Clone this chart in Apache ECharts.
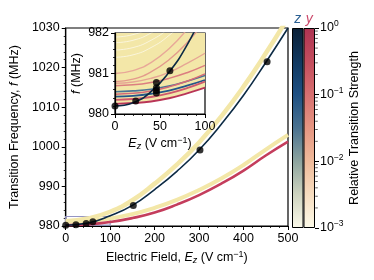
<!DOCTYPE html>
<html><head><meta charset="utf-8">
<script src="https://cdn.jsdelivr.net/npm/echarts@6/dist/echarts.min.js"></script>
<style>html,body{margin:0;padding:0;background:#fff}#c{width:374px;height:280px}</style>
</head><body><div id="c"></div><script>
// ---- data ----
const fieldMain = [0,50,100,150,200,250,300,350,400,450,500];
const zMain     = [980.2,980.75,982.6,985.2,989.2,993.8,999.2,1005.7,1013.0,1021.3,1030.0];
const zBandMain = [981.2,981.9,983.6,986.5,990.7,995.5,1001.1,1007.7,1015.2,1023.6,1032.6];
const yBandMain = [981.0,981.3,981.9,983.0,984.6,986.6,989.1,992.0,995.4,999.3,1003.0];
const yMain     = [980.2,980.4,981.0,982.0,983.4,985.4,987.8,990.7,994.0,997.8,1001.3];
const measuredField = [0,23,46,61,152,302,453];
const measuredFreq  = [980.2,980.3,980.6,981.1,985.2,999.2,1021.5];

const fieldInset = [0,20,40,60,80,100];
const insetYellowFloor = [980.28,980.3,980.34,980.42,980.54,980.68];
const insetRed   = [980.25,980.27,980.31,980.39,980.51,980.65];
const insetPink1 = [980.35,980.37,980.42,980.51,980.64,980.8];
const insetBlue1 = [980.43,980.45,980.5,980.58,980.7,980.84];
const insetPink2 = [980.49,980.51,980.57,980.67,980.81,980.99];
const insetBlue2 = [980.55,980.57,980.61,980.69,980.81,980.95];
const insetPink3 = [980.7,980.72,980.78,980.88,981.02,981.2];
const insetPink4 = [980.8,980.86,981.04,981.34,981.76,982.3];
const insetPink5 = [981.0,981.07,981.27,981.61,982.09,982.7];
const insetPink6 = [980.76,980.79,980.88,981.03,981.25,981.5];
const insetNavy  = [980.2,980.28,980.55,981.03,981.7,982.6];
const insetWhite1 = [981.4,981.46,981.64,981.94,982.36,982.9];
const insetWhite2 = [981.58,981.64,981.82,982.12,982.54,983.1];
const insetWhite3 = [981.76,981.82,982.0,982.3,982.72,983.3];
const insetWhite4 = [981.9,981.96,982.14,982.44,982.86,983.4];
const insetField = [0,23,46,46,46,46,61];
const insetFreq  = [980.2,980.32,980.52,980.58,980.65,980.78,981.07];

const colorbarCats = ['z','y'];
const colorbarSpan = [3,3];
const colorbarMinor = [0.002,0.003,0.004,0.005,0.006,0.007,0.008,0.009,
                       0.02,0.03,0.04,0.05,0.06,0.07,0.08,0.09,
                       0.2,0.3,0.4,0.5,0.6,0.7,0.8,0.9];
const mainBox = [[0,980.2],[100,982.4]];

// ---- helpers ----
const FONT = 'Liberation Sans, Arial, sans-serif';
const pair = (xs, ys) => xs.map((x,i)=>[x, ys[i]]);
function line(gi, xs, ys, color, width, z, extra) {
  return Object.assign({
    type:'line', xAxisIndex:gi, yAxisIndex:gi, data:pair(xs,ys), smooth:true,
    showSymbol:false, symbol:'none', lineStyle:{color:color, width:width}, z:z,
    silent:true, animation:false, clip:true
  }, extra||{});
}
const supFmt = v => {
  const e = Math.round(Math.log10(v));
  return '{b|10}{s|' + (e < 0 ? '\u2212' + (-e) : e) + '}';
};
const axisCommon = {
  axisLine:{show:true, lineStyle:{color:'#000', width:1.2}},
  axisTick:{show:true, inside:false, length:4, lineStyle:{color:'#000', width:1}},
  minorTick:{show:true, splitNumber:5, length:2, lineStyle:{color:'#000', width:0.8}},
  splitLine:{show:false},
  axisLabel:{color:'#000', fontSize:12.5, fontFamily:FONT, margin:6, formatter:v=>String(v)}
};
const gradZ = {type:'linear', x:0,y:0,x2:0,y2:1, colorStops:[
  {offset:0, color:'#0b2036'},{offset:0.18, color:'#123a62'},{offset:0.33, color:'#1d4f82'},
  {offset:0.5, color:'#4a7290'},{offset:0.67, color:'#8ea59f'},{offset:0.83, color:'#cdd3bf'},
  {offset:1, color:'#fcfaea'}]};
const gradY = {type:'linear', x:0,y:0,x2:0,y2:1, colorStops:[
  {offset:0, color:'#ad3352'},{offset:0.18, color:'#c5505f'},{offset:0.33, color:'#d66f70'},
  {offset:0.5, color:'#e59682'},{offset:0.67, color:'#efbb9b'},{offset:0.83, color:'#f6dcbf'},
  {offset:1, color:'#fdfbe9'}]};

const YEL = '#f3e7a8';
const richName = {i:{fontStyle:'italic', fontSize:12.5, fontFamily:FONT},
  sub:{fontSize:9, fontStyle:'italic', fontFamily:FONT, verticalAlign:'bottom', padding:[6,0,0,0]},
  sup:{fontSize:9, fontFamily:FONT, verticalAlign:'top', padding:[0,0,6,0]}};
const option = {
  animation:false,
  backgroundColor:'#fff',
  textStyle:{fontFamily:FONT},
  grid:[
    {left:65, top:28, width:223, height:198, show:true, borderColor:'#000', borderWidth:1.2, z:0},
    {left:115, top:33, width:90, height:81, show:true, backgroundColor:'#fff', borderColor:'#000', borderWidth:1.2, z:5},
    {left:292, top:28, width:23, height:200, show:false}
  ],
  xAxis:[
    Object.assign({}, axisCommon, {gridIndex:0, type:'value', min:0, max:500, interval:100,
      name:'Electric Field, {i|E}{sub|z} (V cm{sup|\u22121})', nameLocation:'middle', nameGap:24,
      nameTextStyle:{color:'#000', fontSize:12.5, fontFamily:FONT, rich:richName}}),
    Object.assign({}, axisCommon, {gridIndex:1, type:'value', min:0, max:100, interval:50, z:9,
      name:'{i|E}{sub|z} (V cm{sup|\u22121})', nameLocation:'middle', nameGap:22,
      nameTextStyle:{color:'#000', fontSize:12.5, fontFamily:FONT, rich:richName}}),
    {gridIndex:2, type:'category', data:colorbarCats, position:'top',
      axisLine:{show:false}, axisTick:{show:false},
      axisLabel:{margin:2, interval:0, formatter:v=>'{'+v+'|'+v+'}',
        rich:{z:{color:'#2b5f92', fontStyle:'italic', fontSize:14, fontFamily:FONT},
              y:{color:'#cc4a6c', fontStyle:'italic', fontSize:14, fontFamily:FONT}}}},
    {gridIndex:2, type:'value', min:0, max:1, show:false}
  ],
  yAxis:[
    Object.assign({}, axisCommon, {gridIndex:0, type:'value', min:980, max:1030, interval:10,
      name:'Transition Frequency, {i|f} (MHz)', nameLocation:'middle', nameGap:35,
      nameTextStyle:{color:'#000', fontSize:12.5, fontFamily:FONT, rich:richName}}),
    Object.assign({}, axisCommon, {gridIndex:1, type:'value', min:980, max:982, interval:1, z:9,
      name:'{i|f} (MHz)', nameLocation:'middle', nameGap:32,
      nameTextStyle:{color:'#000', fontSize:12.5, fontFamily:FONT, rich:richName}}),
    {gridIndex:2, type:'value', min:0, max:3, show:false},
    {gridIndex:2, type:'log', min:0.001, max:1, logBase:10, position:'right',
      axisLine:{show:false}, splitLine:{show:false},
      axisTick:{show:true, inside:false, length:4, lineStyle:{color:'#000', width:1}},
      axisLabel:{color:'#000', margin:5, formatter:supFmt,
        rich:{b:{fontSize:12.5, fontFamily:FONT, color:'#000'}, s:{fontSize:8.5, fontFamily:FONT, color:'#000', verticalAlign:'top', padding:[0,0,8,0]}}},
      name:'Relative Transition Strength', nameLocation:'middle', nameGap:33, nameRotate:90,
      nameTextStyle:{color:'#000', fontSize:12.5, fontFamily:FONT}}
  ],
  series:[
    // main plot
    line(0, fieldMain, zBandMain, YEL, 4.5, 2),
    line(0, fieldMain, yBandMain, YEL, 4, 2),
    line(0, fieldMain, yMain, '#c43d5c', 2.6, 3),
    line(0, fieldMain, zMain, '#0d2b45', 1.6, 4, {
      markArea:{silent:true, itemStyle:{color:'rgba(0,0,0,0)', borderColor:'#9595c4', borderWidth:1.2},
        data:[[{coord:mainBox[0]},{coord:mainBox[1]}]]}}),
    {type:'scatter', xAxisIndex:0, yAxisIndex:0, data:pair(measuredField, measuredFreq),
      symbolSize:7, itemStyle:{color:'#000'}, z:5, silent:true},
    // inset
    line(1, fieldInset, insetYellowFloor, YEL, 1, 6, {areaStyle:{color:YEL, opacity:1, origin:'end'}}),
    line(1, fieldInset, insetWhite1, 'rgba(255,255,255,0.85)', 0.7, 7),
    line(1, fieldInset, insetWhite2, 'rgba(255,255,255,0.85)', 0.7, 7),
    line(1, fieldInset, insetWhite3, 'rgba(255,255,255,0.85)', 0.7, 7),
    line(1, fieldInset, insetWhite4, 'rgba(255,255,255,0.85)', 0.7, 7),
    line(1, fieldInset, insetPink5, '#e8a898', 1.4, 7),
    line(1, fieldInset, insetPink4, '#e39a8c', 1.4, 7),
    line(1, fieldInset, insetPink6, '#e6a594', 1.4, 7),
    line(1, fieldInset, insetPink3, '#dc7e80', 1.5, 7),
    line(1, fieldInset, insetBlue2, '#4a7595', 1.6, 7),
    line(1, fieldInset, insetPink2, '#d56b77', 1.5, 7),
    line(1, fieldInset, insetBlue1, '#24578a', 1.8, 7),
    line(1, fieldInset, insetPink1, '#cf5a6d', 1.8, 7),
    line(1, fieldInset, insetRed, '#b93556', 2, 7),
    line(1, fieldInset, insetNavy, '#0d2b45', 1.6, 8),
    {type:'scatter', xAxisIndex:1, yAxisIndex:1, data:pair(insetField, insetFreq),
      symbolSize:7, itemStyle:{color:'#000'}, z:9, silent:true, clip:false},
    // colorbar
    {type:'bar', xAxisIndex:2, yAxisIndex:2, barWidth:'100%', barGap:'0%', silent:true, z:2,
      data:[{value:colorbarSpan[0], itemStyle:{color:gradZ}}, {value:colorbarSpan[1], itemStyle:{color:gradY}}],
      itemStyle:{borderColor:'#000', borderWidth:1}},
    {type:'scatter', xAxisIndex:3, yAxisIndex:3, silent:true, z:3,
      data:colorbarMinor.map(v=>[1, v]), symbol:'rect', symbolSize:[2.5,0.8], symbolOffset:[1.5,0],
      itemStyle:{color:'#000'}}
  ]
};
const chart = echarts.init(document.getElementById('c'), null, {renderer:'canvas'});
chart.setOption(option);
</script></body></html>
